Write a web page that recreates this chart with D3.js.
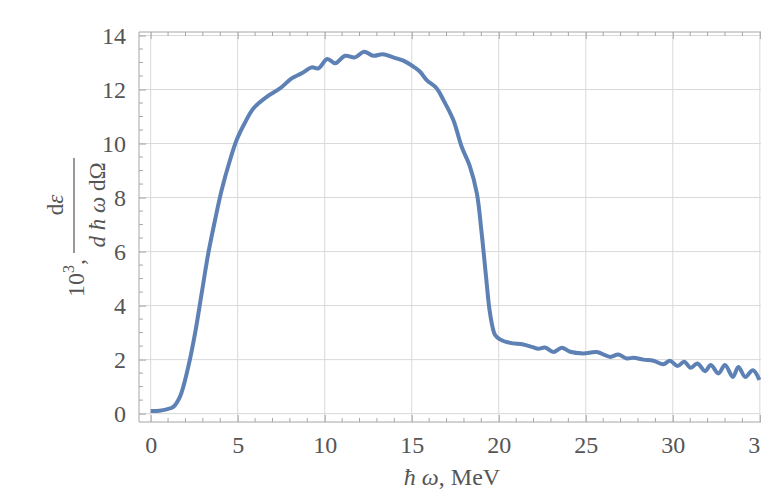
<!DOCTYPE html>
<html>
<head>
<meta charset="utf-8">
<script src="https://cdn.jsdelivr.net/npm/d3@7"></script>
<style>
  html, body { margin: 0; padding: 0; background: #fff; }
  svg { display: block; }
  text { font-family: "Liberation Serif", "DejaVu Serif", serif; fill: #555; }
</style>
</head>
<body>
<svg id="chart" width="761" height="495"></svg>
<script>
// Photon energy (MeV) and spectral yield (×10³)
const energy = [0, 0.5, 0.92, 1.3, 1.68, 2.16, 2.55, 2.93, 3.31, 3.7, 4.08, 4.56, 4.94, 5.4, 5.9,
  6.67, 7.43, 8.1, 8.68, 9.25, 9.63, 10.15, 10.6, 11.17, 11.74, 12.26, 12.8, 13.33, 13.94, 14.52,
  15.09, 15.48, 15.86, 16.44, 16.82, 17.39, 17.87, 18.35, 18.74, 19.02, 19.27, 19.5, 19.79, 20.07,
  20.65, 21.41, 21.9, 22.28, 22.66, 23.14, 23.62, 24.1, 24.86, 25.63, 26.4, 26.87, 27.36, 27.74,
  28.31, 28.89, 29.46, 29.84, 30.27, 30.65, 31.03, 31.41, 31.86, 32.18, 32.62, 33.0, 33.45, 33.77,
  34.16, 34.6, 34.98];
const yieldValues = [0.10, 0.11, 0.16, 0.25, 0.62, 1.73, 2.97, 4.45, 5.93, 7.17, 8.28, 9.39, 10.13, 10.75, 11.3,
  11.73, 12.04, 12.41, 12.6, 12.82, 12.78, 13.13, 12.97, 13.25, 13.19, 13.4, 13.25, 13.31, 13.19, 13.07,
  12.85, 12.66, 12.35, 12.04, 11.61, 10.87, 9.88, 9.14, 8.16, 6.67, 5.07, 3.71, 2.91, 2.75,
  2.62, 2.56, 2.47, 2.40, 2.45, 2.28, 2.44, 2.29, 2.23, 2.28, 2.10, 2.19, 2.04, 2.07,
  2.0, 1.96, 1.83, 1.96, 1.76, 1.92, 1.70, 1.86, 1.57, 1.80, 1.49, 1.80, 1.36, 1.73,
  1.36, 1.61, 1.25];

const xMajorTicks = [0, 5, 10, 15, 20, 25, 30, 35];
const yMajorTicks = [0, 2, 4, 6, 8, 10, 12, 14];

const svg = d3.select("#chart");
const plotLeft = 139, plotRight = 772, plotTop = 32, plotBottom = 422;

const x = d3.scaleLinear().domain([-0.67, 35.7]).range([plotLeft, plotRight]);
const y = d3.scaleLinear().domain([-0.31, 14.13]).range([plotBottom, plotTop]);

const xMinor = d3.range(0, 36, 1).filter(v => v % 5 !== 0);
const yMinor = d3.range(0, 14.01, 0.5).filter(v => v % 2 !== 0);

// grid lines
const grid = svg.append("g").attr("stroke", "#d9d9d9").attr("stroke-width", 1);
xMajorTicks.forEach(v => grid.append("line")
  .attr("x1", x(v)).attr("x2", x(v)).attr("y1", plotTop).attr("y2", plotBottom));
yMajorTicks.forEach(v => grid.append("line")
  .attr("x1", plotLeft).attr("x2", plotRight).attr("y1", y(v)).attr("y2", y(v)));

// curve
const line = d3.line()
  .x((d, i) => x(energy[i]))
  .y(d => y(d))
  .curve(d3.curveCatmullRom.alpha(0.5));
svg.append("path")
  .attr("d", line(yieldValues))
  .attr("fill", "none")
  .attr("stroke", "#5E81B5")
  .attr("stroke-width", 4)
  .attr("stroke-linejoin", "round");

// frame with inward ticks
const frameColor = "#a6a6a6";
const axBottom = d3.axisBottom(x).tickValues(xMajorTicks).tickSize(-7).tickPadding(14).tickFormat(d3.format("d"));
const axTop = d3.axisTop(x).tickValues(xMajorTicks).tickSize(-7).tickFormat("");
const axLeft = d3.axisLeft(y).tickValues(yMajorTicks).tickSize(-7).tickPadding(13).tickFormat(d3.format("d"));

function styleAxis(g) {
  g.select(".domain").attr("stroke", frameColor);
  g.selectAll(".tick line").attr("stroke", frameColor);
  g.selectAll(".tick text").attr("font-size", 24).attr("fill", "#555")
    .attr("font-family", "Liberation Serif, serif");
}

const gb = svg.append("g").attr("transform", `translate(0,${plotBottom})`).call(axBottom).call(styleAxis);
const gt = svg.append("g").attr("transform", `translate(0,${plotTop})`).call(axTop).call(styleAxis);
const gl = svg.append("g").attr("transform", `translate(${plotLeft},0)`).call(axLeft).call(styleAxis);
gb.select(".domain").attr("d", `M${plotLeft},0H${plotRight}`);
gt.select(".domain").attr("d", `M${plotLeft},0H${plotRight}`);
gl.select(".domain").attr("d", `M0,${plotTop}V${plotBottom}`);

// minor ticks
const minor = svg.append("g").attr("stroke", frameColor);
xMinor.forEach(v => {
  minor.append("line").attr("x1", x(v)).attr("x2", x(v)).attr("y1", plotBottom).attr("y2", plotBottom - 4);
  minor.append("line").attr("x1", x(v)).attr("x2", x(v)).attr("y1", plotTop).attr("y2", plotTop + 4);
});
yMinor.forEach(v => {
  minor.append("line").attr("x1", plotLeft).attr("x2", plotLeft + 4).attr("y1", y(v)).attr("y2", y(v));
});

// x-axis title
const xt = svg.append("text")
  .attr("x", 452).attr("y", 485)
  .attr("text-anchor", "middle")
  .attr("font-size", 24);
xt.append("tspan").attr("font-style", "italic").text("ħ ω");
xt.append("tspan").text(", MeV");

// y-axis title: 10³, dε / (d ħ ω dΩ), rotated
const yt = svg.append("g").attr("transform", "rotate(-90)");
const pre = yt.append("text").attr("x", -297).attr("y", 84).attr("font-size", 24);
pre.append("tspan").text("10");
pre.append("tspan").attr("font-size", 16).attr("dy", -10).text("3");
pre.append("tspan").attr("dy", 10).text(",");

const fracMid = -205;
yt.append("line")
  .attr("x1", -253).attr("x2", -158)
  .attr("y1", 74).attr("y2", 74)
  .attr("stroke", "#555").attr("stroke-width", 1.2);
const num = yt.append("text").attr("x", fracMid).attr("y", 63)
  .attr("text-anchor", "middle").attr("font-size", 23);
num.append("tspan").text("d");
num.append("tspan").attr("font-style", "italic").text("ε");
const den = yt.append("text").attr("x", fracMid).attr("y", 105)
  .attr("text-anchor", "middle").attr("font-size", 23);
den.append("tspan").attr("font-style", "italic").text("d ħ ω ");
den.append("tspan").text("dΩ");
</script>
</body>
</html>
